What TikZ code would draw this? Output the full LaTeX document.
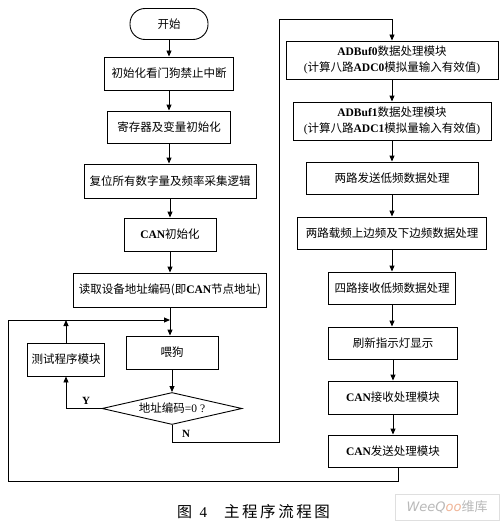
\documentclass[tikz,border=0pt]{standalone}
\usepackage{fontspec}
\setmainfont{Liberation Serif}
\newfontfamily\cjk{Noto Sans CJK SC}
\newfontfamily\wmfont{DejaVu Sans}
\usetikzlibrary{arrows.meta,shapes.geometric}
\definecolor{wmorange}{RGB}{240,180,150}
\begin{document}
\begin{tikzpicture}[x=1pt,y=-1pt,
  box/.style={draw,line width=0.9pt,rectangle,inner sep=0pt,align=center,
    font=\fontsize{11.5}{15.5}\selectfont},
  conn/.style={line width=0.9pt},
  arr/.style={conn,-{Triangle[length=6pt,width=5pt]}},
  lbl/.style={font=\fontsize{11}{13}\selectfont\bfseries,inner sep=0pt},
]
\useasboundingbox (0,0) rectangle (500,527);
\fill[white] (0,0) rectangle (500,527);

% main column
\node[box,minimum width=78pt,minimum height=31pt,rounded corners=15pt] (start) at (169,24) {\cjk 开始};
\node[box,minimum width=129pt,minimum height=33pt] (b1) at (169,73.5) {\cjk 初始化看门狗禁止中断};
\node[box,minimum width=123pt,minimum height=32pt] (b2) at (169,127) {\cjk 寄存器及变量初始化};
\node[box,minimum width=172pt,minimum height=34pt] (b3) at (170,181) {\cjk 复位所有数字量及频率采集逻辑};
\node[box,minimum width=92pt,minimum height=33pt] (b4) at (170,234.5) {{\bfseries CAN}{\cjk 初始化}};
\node[box,minimum width=193pt,minimum height=34pt] (b5) at (170,290) {{\cjk 读取设备地址编码(即}{\bfseries CAN}{\cjk 节点地址)}};
\node[box,minimum width=92pt,minimum height=33pt] (wd) at (172,352.5) {\cjk 喂狗};
\node[box,minimum width=77pt,minimum height=33pt] (test) at (66,359.5) {\cjk 测试程序模块};
\node[draw,line width=0.9pt,diamond,shape aspect=4.4,inner sep=0pt,minimum width=140pt,minimum height=32pt,
  font=\fontsize{11.5}{15.5}\selectfont] (dia) at (172,408.5) {{\cjk 地址编码}=0 ?};

% right column
\node[box,minimum width=212pt,minimum height=38pt] (r1) at (392,60)
  {{\bfseries ADBuf0}{\cjk 数据处理模块}\\({\cjk 计算八路}{\bfseries ADC0}{\cjk 模拟量输入有效值})};
\node[box,minimum width=198pt,minimum height=38pt] (r2) at (392,121)
  {{\bfseries ADBuf1}{\cjk 数据处理模块}\\({\cjk 计算八路}{\bfseries ADC1}{\cjk 模拟量输入有效值})};
\node[box,minimum width=172pt,minimum height=32pt] (r3) at (392,178) {\cjk 两路发送低频数据处理};
\node[box,minimum width=189pt,minimum height=32pt] (r4) at (392,233) {\cjk 两路载频上边频及下边频数据处理};
\node[box,minimum width=127pt,minimum height=32pt] (r5) at (392,288) {\cjk 四路接收低频数据处理};
\node[box,minimum width=129pt,minimum height=32pt] (r6) at (393,343) {\cjk 刷新指示灯显示};
\node[box,minimum width=129pt,minimum height=33pt] (r7) at (393,397.5) {{\bfseries CAN}{\cjk 接收处理模块}};
\node[box,minimum width=129pt,minimum height=32pt] (r8) at (393,451) {{\bfseries CAN}{\cjk 发送处理模块}};

% coordinates
\coordinate (j) at (170,320);
\coordinate (lb) at (8,481);
\coordinate (n1) at (279,442);
\coordinate (n2) at (279,19);

% main column arrows
\draw[arr] (start.south) -- (start.south |- b1.north);
\draw[arr] (b1.south) -- (b1.south |- b2.north);
\draw[arr] (b2.south) -- (b2.south |- b3.north);
\draw[arr] (b3.south) -- (b3.south |- b4.north);
\draw[arr] (b4.south) -- (b4.south |- b5.north);
\draw[arr] (b5.south) -- (b5.south |- wd.north);
\draw[arr] (wd.south) -- (wd.south |- dia.north);

% right column arrows
\draw[arr] (r1.south) -- (r1.south |- r2.north);
\draw[arr] (r2.south) -- (r2.south |- r3.north);
\draw[arr] (r3.south) -- (r3.south |- r4.north);
\draw[arr] (r4.south) -- (r4.south |- r5.north);
\draw[arr] (r5.south) -- (r5.south |- r6.north);
\draw[arr] (r6.south) -- (r6.south |- r7.north);
\draw[arr] (r7.south) -- (r7.south |- r8.north);

% loop back
\draw[arr] ([xshift=5pt]r8.south) |- (lb) |- (j);

% Y branch
\draw[arr] (dia.west) -| (test.south);
\draw[arr] (test.north) -- (test.north |- j);
\node[lbl] (ylab) at (86,401) {Y};

% N branch
\draw[arr] (dia.south) |- (n1) -- (n2) -| (r1.north);
\node[lbl] (nlab) at (186,434) {N};

% caption
\node[inner sep=0pt,font=\fontsize{15}{17}\selectfont] (cap1) at (192,512) {{\cjk 图}\enspace 4};
\node[inner sep=0pt,font=\fontsize{15.5}{17}\selectfont] (cap2) at (277,512) {\cjk 主\,程\,序\,流\,程\,图};

% watermark
\node[draw=gray!25,line width=0.6pt,minimum width=104pt,minimum height=26pt,inner sep=0pt,
  text=gray!55,font=\fontsize{13}{15}\selectfont] (wm) at (447,507)
  {{\wmfont\itshape WeeQ\textcolor{wmorange}{oo}}{\cjk 维库}};
\end{tikzpicture}
\end{document}
